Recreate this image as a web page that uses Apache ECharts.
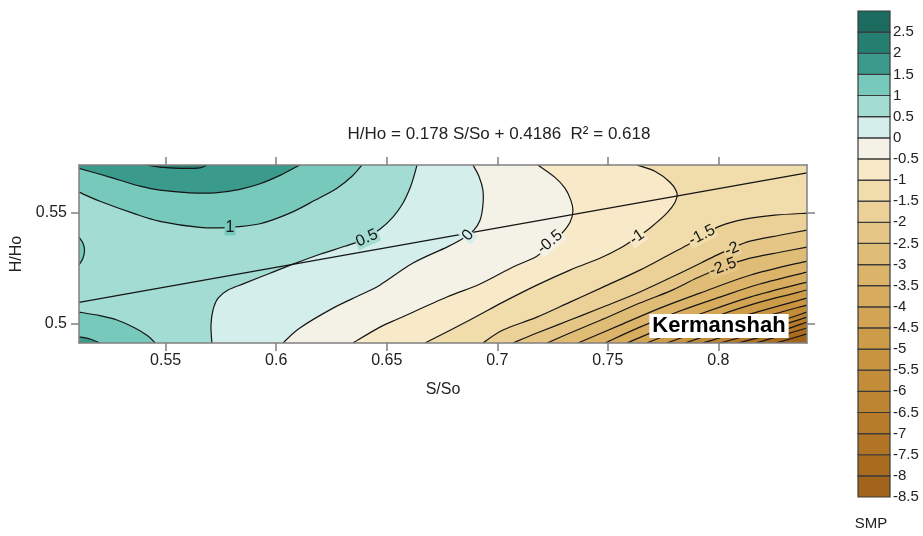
<!DOCTYPE html>
<html><head><meta charset="utf-8">
<script src="https://cdn.jsdelivr.net/npm/echarts@6/dist/echarts.min.js"></script>
<style>html,body{margin:0;padding:0;background:#fff;}#chart{width:923px;height:536px;}</style>
</head><body><div id="chart"></div>
<script>
const FONT = '"Liberation Sans", Arial, sans-serif';

// axis extents and ticks
const xRange = [0.5108, 0.8401];
const yRange = [0.4911, 0.5717];
const xTicks = [0.55, 0.6, 0.65, 0.7, 0.75, 0.8];
const yTicks = [0.5, 0.55];

// colour bar: lower bound of each band and its colour
const cbarLevels = [-8.5,-8,-7.5,-7,-6.5,-6,-5.5,-5,-4.5,-4,-3.5,-3,-2.5,-2,-1.5,-1,-0.5,0,0.5,1,1.5,2,2.5];
const cbarColors = ['#a1641a','#a96c1f','#b07424','#b77c2a','#bd8431','#c28c38','#c89440','#cd9c49','#d2a453','#d7ac5e','#dbb469','#e0bd77','#e5c687','#ebd198','#f1dcac','#f8e9c9','#f4f1e6','#d3eeeb','#a3dcd2','#77c9bb','#3a9a8b','#257f71','#1b6b5f'];

// regression line H/Ho = 0.178 S/So + 0.4186 (end points)
const regLine = [[0.5108, 0.5095], [0.8401, 0.5681]];

// contour lines [S/So, H/Ho]
const c2   = [[0.5415,0.5717],[0.5474,0.5707],[0.5565,0.5702],[0.5655,0.5704],[0.5687,0.5717]];
const c15a = [[0.5108,0.5702],[0.5203,0.5675],[0.5293,0.5648],[0.5384,0.5621],[0.5474,0.5603],[0.5610,0.5591],[0.5723,0.5591],[0.5836,0.5607],[0.5927,0.5632],[0.6017,0.5670],[0.6107,0.5717]];
const c15b = [[0.5108,0.4939],[0.5158,0.4929],[0.5203,0.4911]];
const c1a  = [[0.5108,0.5594],[0.5203,0.5553],[0.5352,0.5499],[0.5474,0.5462],[0.5655,0.5435],[0.5791,0.5435],[0.5927,0.5451],[0.6062,0.5499],[0.6175,0.5557],[0.6275,0.5612],[0.6343,0.5666],[0.6388,0.5717]];
const c1b  = [[0.5108,0.5051],[0.5203,0.5035],[0.5280,0.5015],[0.5361,0.4979],[0.5420,0.4943],[0.5452,0.4911]];
const c1c  = [[0.5108,0.5390],[0.5126,0.5363],[0.5133,0.5331],[0.5126,0.5295],[0.5108,0.5264]];
const c05  = [[0.5709,0.4911],[0.5705,0.4992],[0.5714,0.5060],[0.5737,0.5114],[0.5782,0.5151],[0.5859,0.5182],[0.5972,0.5227],[0.6076,0.5268],[0.6198,0.5313],[0.6311,0.5349],[0.6388,0.5377],[0.6469,0.5426],[0.6528,0.5481],[0.6573,0.5544],[0.6605,0.5612],[0.6623,0.5666],[0.6637,0.5717]];
const c0   = [[0.6031,0.4911],[0.6107,0.4979],[0.6257,0.5069],[0.6379,0.5128],[0.6469,0.5173],[0.6619,0.5273],[0.6772,0.5345],[0.6854,0.5390],[0.6894,0.5422],[0.6922,0.5467],[0.6935,0.5535],[0.6935,0.5603],[0.6917,0.5666],[0.6890,0.5717]];
const cm05 = [[0.6347,0.4911],[0.6469,0.4983],[0.6560,0.5024],[0.6772,0.5119],[0.6922,0.5178],[0.7071,0.5255],[0.7179,0.5304],[0.7238,0.5359],[0.7292,0.5408],[0.7329,0.5458],[0.7342,0.5508],[0.7333,0.5557],[0.7306,0.5612],[0.7261,0.5661],[0.7184,0.5717]];
const cm1  = [[0.6673,0.4911],[0.6876,0.5015],[0.7026,0.5096],[0.7179,0.5173],[0.7329,0.5241],[0.7464,0.5295],[0.7555,0.5340],[0.7632,0.5390],[0.7690,0.5431],[0.7767,0.5499],[0.7804,0.5548],[0.7813,0.5589],[0.7781,0.5639],[0.7713,0.5689],[0.7632,0.5717]];
const cm15 = [[0.6935,0.4911],[0.7026,0.4970],[0.7179,0.5028],[0.7329,0.5096],[0.7478,0.5164],[0.7645,0.5241],[0.7781,0.5313],[0.7858,0.5354],[0.7930,0.5395],[0.8007,0.5440],[0.8120,0.5472],[0.8256,0.5490],[0.8401,0.5499]];
const cm2  = [[0.7071,0.4911],[0.7179,0.4956],[0.7329,0.5015],[0.7478,0.5074],[0.7645,0.5142],[0.7826,0.5227],[0.7975,0.5300],[0.8052,0.5336],[0.8143,0.5372],[0.8278,0.5399],[0.8401,0.5422]];
const cm25 = [[0.7225,0.4911],[0.7329,0.4956],[0.7478,0.5019],[0.7645,0.5092],[0.7781,0.5146],[0.7903,0.5205],[0.8021,0.5255],[0.8143,0.5295],[0.8278,0.5322],[0.8401,0.5345]];
const cm3  = [[0.7365,0.4911],[0.7555,0.4992],[0.7736,0.5069],[0.7917,0.5137],[0.8143,0.5218],[0.8401,0.5282]];
const cm35 = [[0.7487,0.4911],[0.7645,0.4983],[0.7826,0.5056],[0.8007,0.5119],[0.8188,0.5178],[0.8401,0.5232]];
const cm4  = [[0.7586,0.4911],[0.7736,0.4974],[0.7917,0.5042],[0.8143,0.5119],[0.8401,0.5187]];
const cm45 = [[0.7677,0.4911],[0.7826,0.4970],[0.8007,0.5038],[0.8188,0.5096],[0.8401,0.5151]];
const cm5  = [[0.7767,0.4911],[0.7917,0.4965],[0.8097,0.5028],[0.8401,0.5114]];
const cm55 = [[0.7849,0.4911],[0.8007,0.4965],[0.8188,0.5024],[0.8401,0.5083]];
const cm6  = [[0.7930,0.4911],[0.8097,0.4961],[0.8278,0.5010],[0.8401,0.5051]];
const cm65 = [[0.8007,0.4911],[0.8188,0.4961],[0.8401,0.5028]];
const cm7  = [[0.8088,0.4911],[0.8256,0.4956],[0.8401,0.5006]];
const cm75 = [[0.8170,0.4911],[0.8278,0.4943],[0.8401,0.4979]];
const cm8  = [[0.8260,0.4911],[0.8401,0.4952]];

// contour labels: text, S/So, H/Ho, angle (deg)
const contourLabels = [
  ['1', 0.5791, 0.5435, 0],
  ['0.5', 0.6410, 0.5386, 24],
  ['0', 0.6867, 0.5399, 50],
  ['-0.5', 0.7238, 0.5368, 40],
  ['-1', 0.7632, 0.5390, 35],
  ['-1.5', 0.7926, 0.5399, 27],
  ['-2', 0.8061, 0.5336, 22],
  ['-2.5', 0.8021, 0.5255, 20]
];

// pieces: level, line, plot corners closing the high-value side (ascending level order)
const HI3 = ['TR','TL','BL'];
const pieces = [
  {level:-8, pts:cm8, close:HI3}, {level:-7.5, pts:cm75, close:HI3}, {level:-7, pts:cm7, close:HI3},
  {level:-6.5, pts:cm65, close:HI3}, {level:-6, pts:cm6, close:HI3}, {level:-5.5, pts:cm55, close:HI3},
  {level:-5, pts:cm5, close:HI3}, {level:-4.5, pts:cm45, close:HI3}, {level:-4, pts:cm4, close:HI3},
  {level:-3.5, pts:cm35, close:HI3}, {level:-3, pts:cm3, close:HI3}, {level:-2.5, pts:cm25, close:HI3},
  {level:-2, pts:cm2, close:HI3}, {level:-1.5, pts:cm15, close:HI3},
  {level:-1, pts:cm1, close:['TL','BL']}, {level:-0.5, pts:cm05, close:['TL','BL']},
  {level:0, pts:c0, close:['TL','BL']}, {level:0.5, pts:c05, close:['TL','BL']},
  {level:1, pts:c1a, close:['TL']}, {level:1, pts:c1b, close:['BL']}, {level:1, pts:c1c, close:[]},
  {level:1.5, pts:c15a, close:['TL']}, {level:1.5, pts:c15b, close:['BL']},
  {level:2, pts:c2, close:[]}
];

function bandColor(level) { return cbarColors[cbarLevels.indexOf(level)]; }
function cornerVal(c) {
  return [c[1] === 'L' ? xRange[0] : xRange[1], c[0] === 'T' ? yRange[1] : yRange[0]];
}
function smoothPath(p) {
  let d = 'M' + p[0][0] + ' ' + p[0][1];
  for (let i = 0; i < p.length - 1; i++) {
    const p0 = p[i - 1] || p[i], p1 = p[i], p2 = p[i + 1], p3 = p[i + 2] || p2;
    d += ' C' + (p1[0] + (p2[0] - p0[0]) / 6) + ' ' + (p1[1] + (p2[1] - p0[1]) / 6) + ' ' +
         (p2[0] - (p3[0] - p1[0]) / 6) + ' ' + (p2[1] - (p3[1] - p1[1]) / 6) + ' ' + p2[0] + ' ' + p2[1];
  }
  return d;
}

const chart = echarts.init(document.getElementById('chart'), null, {renderer: 'canvas'});

const axisLineStyle = {color: '#808080', width: 1.5};
const labelStyle = {fontSize: 16, color: '#222', fontFamily: FONT};

const option = {
  animation: false,
  backgroundColor: '#fff',
  grid: [
    {left: 79, top: 165, width: 728, height: 178},
    {left: 858, top: 11, width: 32, height: 486}
  ],
  xAxis: [
    {type: 'value', gridIndex: 0, min: xRange[0], max: xRange[1], position: 'bottom', z: 10,
     name: 'S/So', nameLocation: 'middle', nameGap: 39,
     nameTextStyle: {fontSize: 16, color: '#222', fontFamily: FONT},
     axisLine: {show: true, onZero: false, lineStyle: axisLineStyle},
     axisTick: {show: true, customValues: xTicks, length: 8, lineStyle: axisLineStyle},
     axisLabel: Object.assign({customValues: xTicks, margin: 10}, labelStyle),
     splitLine: {show: false}},
    {type: 'value', gridIndex: 0, min: xRange[0], max: xRange[1], position: 'top', z: 10,
     axisLine: {show: true, onZero: false, lineStyle: axisLineStyle},
     axisTick: {show: true, customValues: xTicks, length: 8, lineStyle: axisLineStyle},
     axisLabel: {show: false}, splitLine: {show: false}},
    {type: 'value', gridIndex: 1, min: 0, max: 1, show: false}
  ],
  yAxis: [
    {type: 'value', gridIndex: 0, min: yRange[0], max: yRange[1], position: 'left', z: 10,
     name: 'H/Ho', nameLocation: 'middle', nameGap: 53,
     nameTextStyle: {fontSize: 16, color: '#222', fontFamily: FONT},
     axisLine: {show: true, onZero: false, lineStyle: axisLineStyle},
     axisTick: {show: true, customValues: yTicks, length: 8, lineStyle: axisLineStyle},
     axisLabel: Object.assign({customValues: yTicks, margin: 12}, labelStyle),
     splitLine: {show: false}},
    {type: 'value', gridIndex: 0, min: yRange[0], max: yRange[1], position: 'right', z: 10,
     axisLine: {show: true, onZero: false, lineStyle: axisLineStyle},
     axisTick: {show: true, customValues: yTicks, length: 8, lineStyle: axisLineStyle},
     axisLabel: {show: false}, splitLine: {show: false}},
    {type: 'value', gridIndex: 1, min: -8.5, max: 3, interval: 0.5, position: 'right',
     axisLine: {show: false}, axisTick: {show: false}, splitLine: {show: false},
     axisLabel: {margin: 3, fontSize: 15, color: '#222', fontFamily: FONT, padding: [0, 0, 4, 0],
                 formatter: v => (v === 3 ? '' : String(v))}}
  ],
  graphic: [
    {type: 'text', z: 100, x: 499, y: 134,
     style: {text: 'H/Ho = 0.178 S/So + 0.4186  R² = 0.618', font: '17px ' + FONT, fill: '#222', align: 'center', verticalAlign: 'middle'}},
    {type: 'text', z: 100, x: 719, y: 326,
     style: {text: 'Kermanshah', font: 'bold 22px ' + FONT, fill: '#000', align: 'center', verticalAlign: 'middle',
             backgroundColor: '#fff', padding: [1, 3]}},
    {type: 'text', z: 100, x: 871, y: 524,
     style: {text: 'SMP', font: '15px ' + FONT, fill: '#222', align: 'center', verticalAlign: 'middle'}}
  ],
  series: [
    {
      type: 'custom', name: 'fills', xAxisIndex: 0, yAxisIndex: 0, z: 1, clip: true, silent: true,
      data: [[xRange[0], yRange[0], -1]].concat(pieces.map((p, i) => [xRange[0], yRange[0], i])),
      renderItem: function (params, api) {
        const idx = params.dataIndex;
        if (idx === 0) {
          const pts = ['BL', 'BR', 'TR', 'TL'].map(c => api.coord(cornerVal(c)));
          return {type: 'polygon', shape: {points: pts}, style: {fill: cbarColors[0], stroke: null}};
        }
        const pc = pieces[idx - 1];
        const px = pc.pts.map(p => api.coord(p));
        let d = smoothPath(px);
        pc.close.forEach(c => { const q = api.coord(cornerVal(c)); d += ' L' + q[0] + ' ' + q[1]; });
        d += ' Z';
        return {type: 'path', shape: {pathData: d}, style: {fill: bandColor(pc.level), stroke: null}};
      }
    },
    {
      type: 'custom', name: 'contours', xAxisIndex: 0, yAxisIndex: 0, z: 2, clip: true, silent: true,
      data: pieces.map((p, i) => [xRange[0], yRange[0], i]),
      renderItem: function (params, api) {
        const pc = pieces[params.dataIndex];
        const px = pc.pts.map(p => api.coord(p));
        return {type: 'path', shape: {pathData: smoothPath(px)},
                style: {fill: null, stroke: '#151515', lineWidth: 1.2}};
      }
    },
    {
      type: 'line', name: 'regression', xAxisIndex: 0, yAxisIndex: 0, z: 3, silent: true,
      data: regLine, symbol: 'none', lineStyle: {color: '#151515', width: 1.2}
    },
    {
      type: 'custom', name: 'labels', xAxisIndex: 0, yAxisIndex: 0, z: 4, silent: true,
      data: contourLabels.map(l => [l[1], l[2]]),
      renderItem: function (params, api) {
        const l = contourLabels[params.dataIndex];
        const p = api.coord([l[1], l[2]]);
        const lv = parseFloat(l[0]);
        return {type: 'text', x: p[0], y: p[1], rotation: l[3] * Math.PI / 180,
                style: {text: l[0], font: '16px ' + FONT, fill: '#151515', align: 'center', verticalAlign: 'middle',
                        backgroundColor: bandColor(lv), padding: [0, 1]}};
      }
    },
    {
      type: 'custom', name: 'colorbar', xAxisIndex: 2, yAxisIndex: 2, silent: true,
      data: cbarLevels.map((l, i) => [0, l, i]),
      renderItem: function (params, api) {
        const i = params.dataIndex;
        const lo = cbarLevels[i];
        const p1 = api.coord([0, lo + 0.5]);
        const p2 = api.coord([1, lo]);
        return {type: 'rect', shape: {x: p1[0], y: p1[1], width: p2[0] - p1[0], height: p2[1] - p1[1]},
                style: {fill: cbarColors[i], stroke: '#3a3a3a', lineWidth: 1.2}};
      }
    }
  ]
};
chart.setOption(option);
</script>
</body></html>
